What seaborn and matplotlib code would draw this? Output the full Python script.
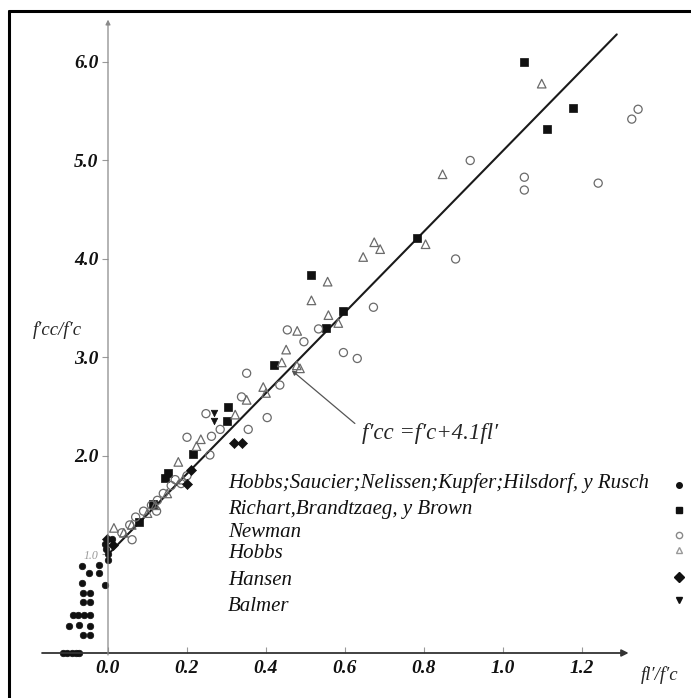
import matplotlib
matplotlib.use("Agg")
import matplotlib.pyplot as plt
from matplotlib.lines import Line2D
import seaborn as sns
import numpy as np
import pandas as pd

sns.set_theme(style="white")
plt.rcParams['font.family'] = ['Liberation Serif', 'DejaVu Serif']

# ---- data ----
saucier_x = [-0.114, -0.103, -0.092, -0.082, -0.073,
             -0.063, -0.046, -0.098, -0.073, -0.046,
             -0.088, -0.075, -0.061, -0.046, -0.063, -0.046,
             -0.063, -0.046, -0.067, -0.008,
             -0.067, -0.047, -0.022, -0.022,
             -0.008, 0.000, 0.000, 0.010, -0.004]
saucier_y = [0.00, 0.00, 0.00, 0.00, 0.00,
             0.18, 0.18, 0.27, 0.28, 0.27,
             0.39, 0.39, 0.39, 0.39, 0.52, 0.52,
             0.61, 0.61, 0.71, 0.69,
             0.88, 0.81, 0.89, 0.81,
             1.11, 1.00, 0.94, 1.16, 1.06]

richart_x = [1.054, 1.112, 1.177, 0.782, 0.515, 0.594, 0.552, 0.420,
             0.305, 0.302, 0.214, 0.153, 0.144, 0.115, 0.079]
richart_y = [6.00, 5.32, 5.53, 4.21, 3.84, 3.47, 3.30, 2.92,
             2.50, 2.36, 2.02, 1.83, 1.78, 1.51, 1.33]

newman_x = [0.917, 1.054, 1.054, 1.241, 1.326, 1.342, 0.880, 0.672, 0.596,
            0.631, 0.454, 0.533, 0.496, 0.351, 0.435, 0.403, 0.355, 0.284,
            0.262, 0.248, 0.200, 0.258, 0.338, 0.170, 0.185, 0.200, 0.140,
            0.125, 0.110, 0.090, 0.070, 0.055, 0.035, 0.160, 0.061, 0.123]
newman_y = [5.00, 4.83, 4.70, 4.77, 5.42, 5.52, 4.00, 3.51, 3.05,
            2.99, 3.28, 3.29, 3.16, 2.84, 2.72, 2.39, 2.27, 2.27,
            2.20, 2.43, 2.19, 2.01, 2.60, 1.76, 1.72, 1.80, 1.62,
            1.55, 1.50, 1.44, 1.38, 1.30, 1.22, 1.70, 1.15, 1.44]

hobbs_x = [1.098, 0.847, 0.674, 0.689, 0.646, 0.556, 0.515, 0.558, 0.804,
           0.583, 0.451, 0.479, 0.440, 0.478, 0.486, 0.393, 0.400, 0.351,
           0.322, 0.235, 0.224, 0.178, 0.015, 0.040, 0.100, 0.150, 0.190,
           0.120, 0.060]
hobbs_y = [5.78, 4.86, 4.17, 4.10, 4.02, 3.77, 3.58, 3.43, 4.15,
           3.35, 3.08, 3.27, 2.95, 2.92, 2.89, 2.70, 2.64, 2.57,
           2.42, 2.17, 2.10, 1.94, 1.27, 1.22, 1.42, 1.62, 1.76,
           1.50, 1.30]

hansen_x = [0.318, 0.340, 0.209, 0.200, -0.002, 0.012]
hansen_y = [2.13, 2.13, 1.86, 1.72, 1.16, 1.10]

balmer_x = [0.269, 0.269]
balmer_y = [2.44, 2.36]

fit_x = [0.0, 1.288]
fit_y = [1.0, 6.28]

labels = ["Hobbs;Saucier;Nelissen;Kupfer;Hilsdorf, y Rusch",
          "Richart,Brandtzaeg, y Brown",
          "Newman",
          "Hobbs",
          "Hansen",
          "Balmer"]

xticks = [0.0, 0.2, 0.4, 0.6, 0.8, 1.0, 1.2]
yticks = [1.0, 2.0, 3.0, 4.0, 5.0, 6.0]

series = [
    (saucier_x, saucier_y, 'o', 22, True),
    (richart_x, richart_y, 's', 30, True),
    (newman_x, newman_y, 'o', 34, False),
    (hobbs_x, hobbs_y, '^', 38, False),
    (hansen_x, hansen_y, 'D', 26, True),
    (balmer_x, balmer_y, 'v', 22, True),
]

fig = plt.figure(figsize=(6.91, 6.98), dpi=100)
ax = fig.add_axes([29 / 691, 0.00802, 651.75 / 691, 0.9808])
ax.set_xlim(-0.2, 1.45)
ax.set_ylim(-0.4, 6.55)

sns.lineplot(x=fit_x, y=fit_y, color='#1a1a1a', lw=1.5, ax=ax, zorder=2)

for xs, ys, mk, sz, filled in series:
    if filled:
        sns.scatterplot(x=xs, y=ys, marker=mk, s=sz, color='#111111',
                        edgecolor='#111111', linewidth=0.5, ax=ax, zorder=3)
    else:
        sns.scatterplot(x=xs, y=ys, marker=mk, s=sz, facecolors='none',
                        edgecolor='#6a6a6a', linewidth=0.9, ax=ax, zorder=3)

# axes drawn as arrows through the origin
for s in ['top', 'right', 'bottom', 'left']:
    ax.spines[s].set_visible(False)
ax.spines['bottom'].set_position(('data', 0))
ax.spines['left'].set_position(('data', 0))
ax.annotate('', xy=(1.318, 0), xytext=(-0.167, 0),
            arrowprops=dict(arrowstyle='-|>', color='#333333', lw=1.3,
                            mutation_scale=10, shrinkA=0, shrinkB=0))
ax.annotate('', xy=(0, 6.43), xytext=(0, -0.02),
            arrowprops=dict(arrowstyle='-|>', color='#8a8a8a', lw=0.9,
                            mutation_scale=7, shrinkA=0, shrinkB=0))

ax.set_xticks(xticks)
ax.set_xticklabels([f"{v:.1f}" for v in xticks])
ax.set_yticks(yticks)
ax.set_yticklabels([f"{v:.1f}" for v in yticks])
ax.tick_params(axis='x', direction='in', length=4, width=0.8, color='#999999',
               pad=5, labelsize=14, bottom=True)
ax.tick_params(axis='y', direction='out', length=4, width=0.8, color='#999999',
               pad=3, labelsize=14, left=True)
for t in ax.get_xticklabels() + ax.get_yticklabels():
    t.set_fontstyle('italic')
    t.set_fontweight('bold')
    t.set_color('#111111')
one = ax.get_yticklabels()[0]
one.set_fontsize(8.5)
one.set_fontweight('normal')
one.set_color('#999999')
ax.grid(False)

ax.set_xlabel('')
ax.set_ylabel('')
ax.text(-0.127, 3.28, "f\u2032cc/f\u2032c", fontsize=13.5, style='italic',
        ha='center', va='center')
ax.text(1.397, -0.22, "fl\u2032/f\u2032c", fontsize=13.5, style='italic',
        ha='center', va='center', clip_on=False)

# equation note with arrow
ax.annotate('', xy=(0.465, 2.87), xytext=(0.625, 2.33),
            arrowprops=dict(arrowstyle='-|>', color='#555555', lw=0.9,
                            mutation_scale=7, shrinkA=0, shrinkB=0))
ax.text(0.643, 2.23, "f\u2032cc =f\u2032c+4.1fl\u2032", fontsize=16.5,
        style='italic', ha='left', va='center')

# legend block: names on the left, keys on the right edge
text_y = [1.726, 1.452, 1.228, 1.015, 0.741, 0.467]
key_y = [1.706, 1.452, 1.198, 1.046, 0.772, 0.538]
key_style = [('o', 4, '#111111', '#111111'), ('s', 4.5, '#111111', '#111111'),
             ('o', 4.5, 'white', '#888888'), ('^', 5, 'white', '#999999'),
             ('D', 5, '#111111', '#111111'), ('v', 4.5, '#111111', '#111111')]
for lab, ty, ky, (mk, ms, fc, ec) in zip(labels, text_y, key_y, key_style):
    ax.text(0.304, ty, lab, fontsize=15, style='italic', ha='left',
            va='center', color='#111111')
    ax.plot([1.446], [ky], marker=mk, ms=ms, mfc=fc, mec=ec, ls='none',
            clip_on=False)

# frame round the figure
fig.add_artist(Line2D([0.013, 0.013], [0.0, 0.984], transform=fig.transFigure,
                      color='black', lw=2.2))
fig.add_artist(Line2D([0.013, 1.0], [0.984, 0.984], transform=fig.transFigure,
                      color='black', lw=2.2))

fig.savefig('out.png', dpi=100, facecolor='white')
